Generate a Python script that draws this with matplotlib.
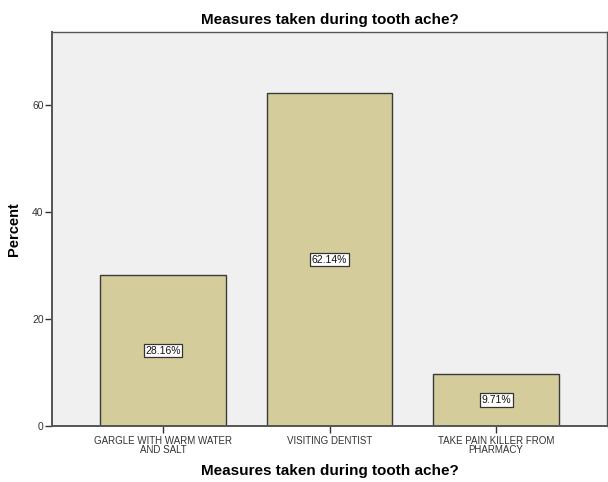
import matplotlib
matplotlib.use("Agg")
import matplotlib.pyplot as plt

categories = ["GARGLE WITH WARM WATER\nAND SALT", "VISITING DENTIST", "TAKE PAIN KILLER FROM\nPHARMACY"]
values = [28.16, 62.14, 9.71]
labels = ["28.16%", "62.14%", "9.71%"]
yticks = [0, 20, 40, 60]

plt.rcParams['font.family'] = ['Liberation Sans', 'DejaVu Sans']

fig = plt.figure(figsize=(6.08, 4.82), dpi=100)
ax = fig.add_axes([52/608, 1-426/482, 555/608, (426-32)/482])
ax.set_facecolor('#F0F0F0')
x = list(range(len(categories)))
ax.bar(x, values, width=0.755, color='#D4CD9B', edgecolor='#3a3a3a', linewidth=1.0, zorder=2)
for xi, v, lab in zip(x, values, labels):
    ax.text(xi, v/2, lab, ha='center', va='center', fontsize=7.5, color='#111111',
            bbox=dict(boxstyle='square,pad=0.15', facecolor='white', edgecolor='#333333', linewidth=0.9), zorder=3)
ax.set_xlim(-0.665, 2.665)
ax.set_ylim(0, 73.6)
ax.set_yticks(yticks)
ax.set_xticks(x)
ax.set_xticklabels(categories, fontsize=7, linespacing=0.85, color='#222222')
ax.tick_params(axis='y', labelsize=7.5, length=5, width=1, colors='#333333', pad=1)
ax.tick_params(axis='x', length=5, width=1, colors='#333333', pad=2)
for s in ax.spines.values():
    s.set_color('#555555')
    s.set_linewidth(1.0)
ax.spines['left'].set_linewidth(1.4)
ax.spines['bottom'].set_linewidth(1.4)
ax.set_title("Measures taken during tooth ache?", fontsize=11, fontweight='bold', pad=6)
ax.set_xlabel("Measures taken during tooth ache?", fontsize=11, fontweight='bold', labelpad=7)
ax.set_ylabel("Percent", fontsize=10.5, fontweight='bold')
ax.yaxis.set_label_coords(-0.056, 0.5)
fig.savefig("out.png", dpi=100)
